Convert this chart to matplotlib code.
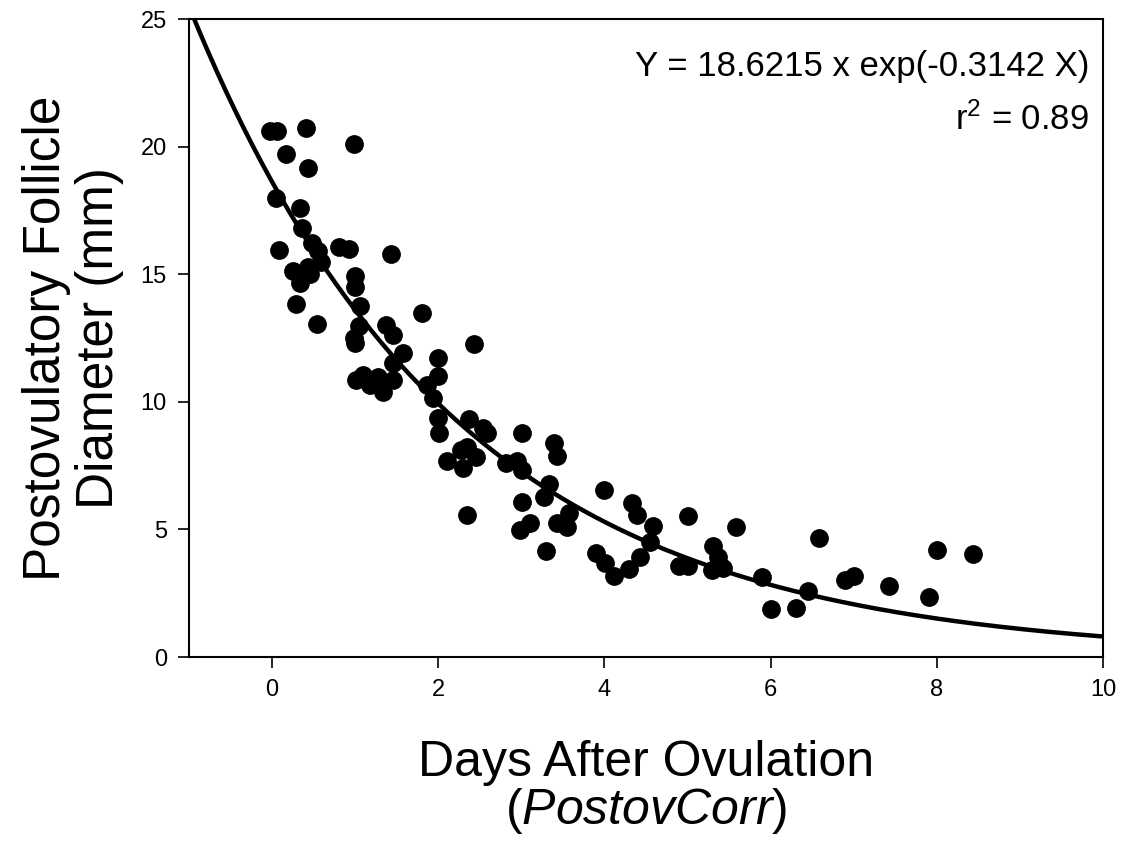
import numpy as np
import matplotlib
matplotlib.use("Agg")
import matplotlib.pyplot as plt

plt.rcParams['font.family'] = ['Liberation Sans', 'DejaVu Sans']
plt.rcParams['mathtext.fontset'] = 'custom'
plt.rcParams['mathtext.rm'] = 'Liberation Sans'
plt.rcParams['mathtext.it'] = 'Liberation Sans:italic'

# days after ovulation vs follicle diameter (mm)
days = [-0.02, 0.06, 0.41, 0.99, 0.17, 0.43, 0.05, 0.34, 0.36, 0.48,
        0.55, 0.59, 0.08, 0.81, 0.92, 1.43, 0.25, 0.43, 0.46, 0.33,
        1.00, 1.00, 0.29, 1.06, 1.81, 0.54, 1.04, 1.37, 1.46, 0.98,
        1.00, 2.43, 1.57, 1.46, 2.00, 2.00, 1.87, 1.94, 1.01, 1.10,
        1.18, 1.27, 1.33, 1.46, 2.00, 2.01, 2.37, 2.54, 2.59, 3.01,
        2.27, 2.35, 2.45, 2.10, 2.30, 3.39, 3.43, 2.81, 2.95, 3.01,
        3.33, 3.27, 3.01, 2.35, 4.00, 4.33, 4.39, 3.10, 2.98, 3.57,
        3.43, 3.55, 4.59, 4.55, 4.43, 5.01, 3.30, 3.90, 4.01, 4.11,
        4.29, 4.90, 5.01, 5.31, 5.37, 5.30, 5.43, 5.58, 5.90, 6.00,
        6.30, 6.45, 6.58, 6.90, 7.00, 7.43, 7.90, 8.00, 8.43]
diam = [20.61, 20.61, 20.73, 20.10, 19.71, 19.16, 17.99, 17.59, 16.81, 16.22,
        15.91, 15.48, 15.95, 16.07, 15.99, 15.79, 15.13, 15.28, 15.01, 14.66,
        14.93, 14.50, 13.83, 13.75, 13.48, 13.05, 12.97, 13.01, 12.62, 12.50,
        12.30, 12.26, 11.91, 11.52, 11.72, 11.01, 10.66, 10.15, 10.85, 11.05,
        10.66, 10.97, 10.38, 10.85, 9.37, 8.78, 9.33, 8.97, 8.78, 8.78,
        8.11, 8.23, 7.84, 7.68, 7.41, 8.39, 7.88, 7.60, 7.68, 7.33,
        6.78, 6.27, 6.07, 5.56, 6.54, 6.03, 5.56, 5.25, 4.98, 5.64,
        5.25, 5.09, 5.13, 4.51, 3.92, 5.53, 4.15, 4.08, 3.68, 3.17,
        3.45, 3.57, 3.57, 4.35, 3.92, 3.41, 3.49, 5.09, 3.13, 1.88,
        1.92, 2.59, 4.66, 3.02, 3.17, 2.78, 2.35, 4.19, 4.04]

a, b = 18.6215, -0.3142

fig = plt.figure(figsize=(11.27, 8.46), dpi=100)
ax = fig.add_axes([0.1677, 0.2234, 0.811, 0.754])

xs = np.linspace(-1, 10, 400)
ax.plot(xs, a * np.exp(b * xs), color='black', lw=3.2, zorder=2)
ax.plot(days, diam, 'o', color='black', ms=12.5, zorder=3)

ax.set_xlim(-1, 10)
ax.set_ylim(0, 25)
ax.set_xticks([0, 2, 4, 6, 8, 10])
ax.set_yticks([0, 5, 10, 15, 20, 25])
ax.tick_params(direction='out', length=8, width=1.2, labelsize=17, pad=8)
for s in ax.spines.values():
    s.set_linewidth(1.5)

ax.set_xlabel('Days After Ovulation\n($\\mathit{PostovCorr}$)', fontsize=36, labelpad=28, linespacing=1.0)
ax.set_ylabel('Postovulatory Follicle\nDiameter (mm)', fontsize=37, labelpad=12, linespacing=1.1)

ax.text(0.985, 0.952, 'Y = 18.6215 x exp(-0.3142 X)', transform=ax.transAxes,
        ha='right', va='top', fontsize=25)
ax.text(0.985, 0.87, 'r$^2$ = 0.89', transform=ax.transAxes,
        ha='right', va='top', fontsize=25)

fig.savefig('out.png', dpi=100)
